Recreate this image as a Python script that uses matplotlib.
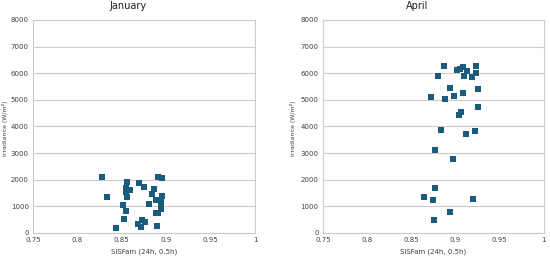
import matplotlib
matplotlib.use("Agg")
import matplotlib.pyplot as plt

jan_x = [0.8282, 0.8335, 0.8432, 0.8508, 0.8523, 0.8545, 0.8556, 0.8545, 0.8553, 0.8564, 0.8594,
         0.8692, 0.8688, 0.8718, 0.8730, 0.8766, 0.8752, 0.8805, 0.8835, 0.8861, 0.8880, 0.8887,
         0.8906, 0.8902, 0.8910, 0.8951, 0.8951, 0.8947, 0.8947, 0.8940]
jan_y = [2088, 1338, 188, 1038, 538, 825, 1925, 1538, 1688, 1350, 1613,
         1888, 350, 238, 475, 413, 1713, 1100, 1450, 1650, 1250, 750,
         2113, 275, 750, 2063, 1375, 1250, 1100, 900]

apr_x = [0.8873, 0.8805, 0.8940, 0.8729, 0.8884, 0.8989, 0.9091, 0.9016, 0.9050, 0.9080,
         0.9099, 0.9129, 0.9189, 0.9227, 0.9238, 0.9253, 0.9253, 0.9039, 0.9061, 0.8835,
         0.9121, 0.9216, 0.8774, 0.8974, 0.8774, 0.8646, 0.8744, 0.9197, 0.8937, 0.8763]
apr_y = [6263, 5888, 5438, 5113, 5025, 5138, 5275, 6113, 6175, 6225,
         5900, 6075, 5850, 6000, 6263, 5400, 4725, 4450, 4563, 3863,
         3700, 3838, 3100, 2775, 1700, 1363, 1250, 1288, 800, 500]

panels = [("January", jan_x, jan_y), ("April", apr_x, apr_y)]
x_ticks = [0.75, 0.8, 0.85, 0.9, 0.95, 1]
x_labels = ["0.75", "0.8", "0.85", "0.9", "0.95", "1"]
y_ticks = [0, 1000, 2000, 3000, 4000, 5000, 6000, 7000, 8000]

color = "#1b5c7e"
fig = plt.figure(figsize=(5.5, 2.59), dpi=100)
positions = [[0.06, 0.1004, 0.4036, 0.8224], [0.587, 0.1004, 0.4018, 0.8224]]
title_x = [128 / 550, 417 / 550]
ylab_x = [5 / 550, 293 / 550]

for i, (name, xs, ys) in enumerate(panels):
    ax = fig.add_axes(positions[i])
    ax.scatter(xs, ys, marker="s", s=14, color=color, zorder=3, linewidths=0)
    ax.set_xlim(0.75, 1)
    ax.set_ylim(0, 8000)
    ax.set_xticks(x_ticks)
    ax.set_xticklabels(x_labels)
    ax.set_yticks(y_ticks)
    ax.tick_params(length=0, labelsize=5, colors="#404040", pad=3)
    ax.grid(axis="y", color="#cccccc", linewidth=0.8, zorder=0)
    for s in ax.spines.values():
        s.set_color("#cccccc")
        s.set_linewidth(0.8)
    ax.set_xlabel("SISFam (24h, 0.5h)", fontsize=5, color="#404040", labelpad=4)
    fig.text(ylab_x[i], 1 - 128 / 259, "Irradiance (W/m²)", rotation=90,
             fontsize=4.5, color="#404040", ha="center", va="center")
    fig.text(title_x[i], 1 - 6 / 259, name, fontsize=7, ha="center", va="center", color="#202020")

fig.savefig("out.png", dpi=100)
